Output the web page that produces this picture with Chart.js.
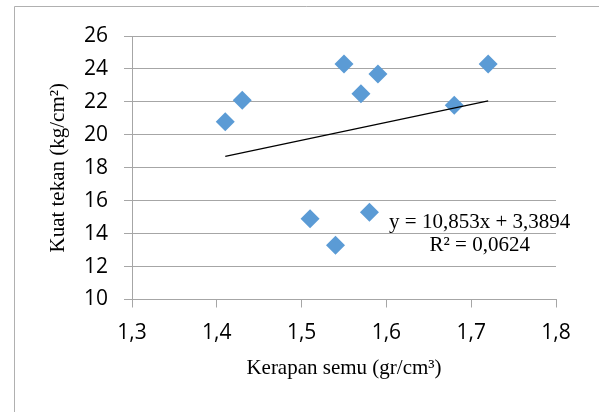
<!DOCTYPE html>
<html>
<head>
<meta charset="utf-8">
<script src="https://cdn.jsdelivr.net/npm/chart.js@4"></script>
<style>
  html, body { margin: 0; padding: 0; background: #fff; }
  #wrap { width: 599px; height: 412px; position: relative; }
</style>
</head>
<body>
<div id="wrap"><canvas id="c" width="599" height="412"></canvas></div>
<script>
// Apparent density (gr/cm³) and compressive strength (kg/cm²) per sample
const density  = [1.41, 1.43, 1.55, 1.57, 1.59, 1.68, 1.72, 1.51, 1.54, 1.58];
const strength = [20.8, 22.1, 24.3, 22.5, 23.7, 21.8, 24.3, 14.9, 13.3, 15.3];

// Axis ticks
const xTicks = [1.3, 1.4, 1.5, 1.6, 1.7, 1.8];
const yTicks = [10, 12, 14, 16, 18, 20, 22, 24, 26];

// Linear trend line: y = a·x + b, with R²
const trendSlope = 10.853;
const trendIntercept = 3.3894;
const rSquared = 0.0624;

const comma = s => String(s).replace('.', ',');

const points = density.map((x, i) => ({ x, y: strength[i] }));
const xMin = Math.min(...density);
const xMax = Math.max(...density);
const trendPoints = [xMin, xMax].map(x => ({ x, y: trendSlope * x + trendIntercept }));

const GRID = '#a6a6a6';
const SERIF = '"Liberation Serif", "Times New Roman", serif';
const SANS = '"Open Sans", Calibri, sans-serif';

// Outer frame and the trend equation text
const decor = {
  id: 'decor',
  beforeDraw(chart) {
    const ctx = chart.ctx;
    ctx.save();
    ctx.fillStyle = '#fff';
    ctx.fillRect(0, 0, chart.width, chart.height);
    ctx.strokeStyle = '#b0b0b0';
    ctx.lineWidth = 1;
    ctx.beginPath();
    ctx.moveTo(14.5, chart.height);
    ctx.lineTo(14.5, 6.5);
    ctx.lineTo(chart.width, 6.5);
    ctx.stroke();
    ctx.restore();
  },
  afterDatasetsDraw(chart, args, opts) {
    const ctx = chart.ctx;
    const cx = chart.scales.x.getPixelForValue(opts.anchor.x);
    const cy = chart.scales.y.getPixelForValue(opts.anchor.y);
    ctx.save();
    ctx.fillStyle = '#000';
    ctx.font = '21px ' + SERIF;
    ctx.textAlign = 'center';
    ctx.textBaseline = 'middle';
    ctx.fillText('y = ' + comma(trendSlope) + 'x + ' + comma(trendIntercept), cx, cy);
    ctx.fillText('R² = ' + comma(rSquared), cx, cy + 23.5);
    ctx.restore();
  }
};

new Chart(document.getElementById('c'), {
  type: 'scatter',
  data: {
    datasets: [
      {
        type: 'line',
        label: 'Linear',
        data: trendPoints,
        borderColor: '#000',
        borderWidth: 1.2,
        pointRadius: 0,
        fill: false,
        order: 0
      },
      {
        label: 'Kuat tekan',
        data: points,
        pointStyle: 'rectRot',
        pointRadius: 9.5,
        pointHoverRadius: 9.5,
        backgroundColor: '#5B9BD5',
        borderColor: '#5B9BD5',
        borderWidth: 0,
        order: 1
      }
    ]
  },
  options: {
    responsive: false,
    animation: false,
    devicePixelRatio: 1,
    events: [],
    layout: { padding: { left: 30, top: 36, right: 43, bottom: 0 } },
    plugins: {
      legend: { display: false },
      tooltip: { enabled: false },
      decor: { anchor: { x: 1.71, y: 14.7 } }
    },
    scales: {
      x: {
        type: 'linear',
        min: xTicks[0],
        max: xTicks[xTicks.length - 1],
        afterBuildTicks(s) { s.ticks = xTicks.map(v => ({ value: v })); },
        afterFit(s) { s.height = 412 - 299.5; },
        ticks: {
          callback: v => comma(Number(v).toFixed(1)),
          font: { family: SANS, size: 21 },
          color: '#000',
          padding: 13,
          maxRotation: 0,
          autoSkip: false
        },
        grid: { drawOnChartArea: false, tickLength: 8, color: GRID, tickColor: GRID },
        border: { color: GRID, width: 1 },
        title: {
          display: true,
          text: 'Kerapan semu (gr/cm³)',
          font: { family: SERIF, size: 21 },
          color: '#000',
          padding: { top: 0, bottom: 31 }
        }
      },
      y: {
        type: 'linear',
        min: yTicks[0],
        max: yTicks[yTicks.length - 1],
        afterBuildTicks(s) { s.ticks = yTicks.map(v => ({ value: v })); },
        afterFit(s) { s.width = 102; },
        ticks: {
          font: { family: SANS, size: 21 },
          color: '#000',
          padding: 16
        },
        grid: { tickLength: 8, color: GRID, tickColor: GRID },
        border: { color: GRID, width: 1 },
        title: {
          display: true,
          text: 'Kuat tekan (kg/cm²)',
          font: { family: SERIF, size: 21 },
          color: '#000',
          padding: { top: 16, bottom: 0 }
        }
      }
    }
  },
  plugins: [decor]
});
</script>
</body>
</html>
